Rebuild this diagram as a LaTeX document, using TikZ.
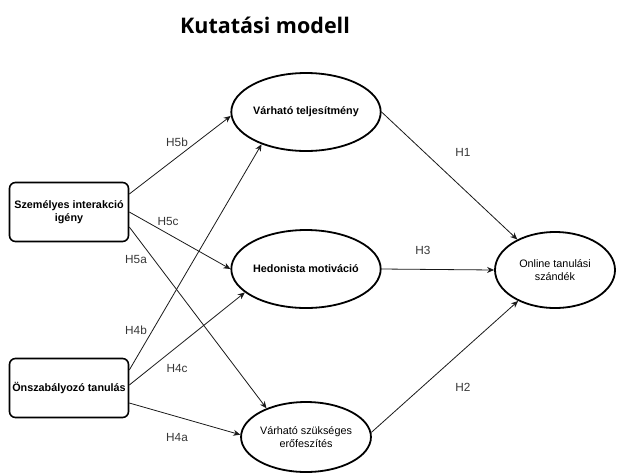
\documentclass[tikz,border=0pt]{standalone}
\usepackage{fontspec}
\setmainfont{Liberation Sans}
\newfontfamily\titlefont{Open Sans}
\usetikzlibrary{shapes.geometric, arrows.meta, positioning, calc}
\definecolor{mydark}{RGB}{25,25,25}
\definecolor{mygrey}{RGB}{55,55,55}
\tikzset{
  arrow/.style={draw=mydark, line width=0.8pt, -{Stealth[length=7pt, width=6pt]}},
  block/.style={draw=black, line width=1.6pt, rectangle, rounded corners=6pt, align=center, font=\fontsize{10.8}{13}\selectfont\bfseries, minimum width=119pt, minimum height=59pt, inner sep=1pt},
  construct/.style={draw=black, line width=1.8pt, ellipse, align=center, font=\fontsize{10.8}{13}\selectfont, minimum width=121pt, minimum height=78pt, inner sep=0pt},
  hlabel/.style={text=mygrey, font=\fontsize{11.8}{14}\selectfont}
}

\begin{document}
\begin{tikzpicture}[x=1pt, y=-1pt]
  \useasboundingbox (0,0) rectangle (617,472);
  \node [font=\titlefont\bfseries\fontsize{21.5}{24}\selectfont, anchor=base] (title) at (265,33) {Kutatási modell};

  % Independent variables (Left)
  \node [block] (sz) at (69,212) {Személyes interakció\\igény};
  \node [block] (on) at (69,388) {Önszabályozó tanulás};

  % Mediators (Middle)
  \node [construct, font=\fontsize{10.8}{13}\selectfont\bfseries] (vt) at (306,112) {Várható teljesítmény};
  \node [construct, font=\fontsize{10.8}{13}\selectfont\bfseries] (hed) at (306,269) {Hedonista motiváció};
  \node [construct, minimum height=70pt] (vsz) at (306,437) {Várható szükséges\\erőfeszítés};

  % Outcome (Right)
  \node [construct, minimum height=76pt, minimum width=120pt] (ots) at (555,270) {Online tanulási\\szándék};

  \draw [arrow] ($(sz.east)+(0,-18)$) -- (vt.183);
  \draw [arrow] (sz.east) -- (hed.west);
  \draw [arrow] ($(sz.east)+(0,15)$) -- (vsz.144);
  \draw [arrow] ($(on.east)+(0,-18)$) -- (vt.216);
  \draw [arrow] ($(on.east)+(0,-3)$) -- (hed.201);
  \draw [arrow] ($(on.east)+(0,15)$) -- (vsz.178);
  \draw [arrow] (vt.east) -- (ots.141);
  \draw [arrow] (hed.east) -- (ots.west);
  \draw [arrow] (vsz.4) -- (ots.220);

  \node [hlabel] (h5b) at (177,142) {H5b};
  \node [hlabel] (h5c) at (168,221) {H5c};
  \node [hlabel] (h5a) at (136,259) {H5a};
  \node [hlabel] (h4b) at (136,330) {H4b};
  \node [hlabel] (h4c) at (177,368) {H4c};
  \node [hlabel] (h4a) at (177,437) {H4a};
  \node [hlabel] (h1) at (463,152) {H1};
  \node [hlabel] (h3) at (423,250) {H3};
  \node [hlabel] (h2) at (463,387) {H2};
\end{tikzpicture}
\end{document}
